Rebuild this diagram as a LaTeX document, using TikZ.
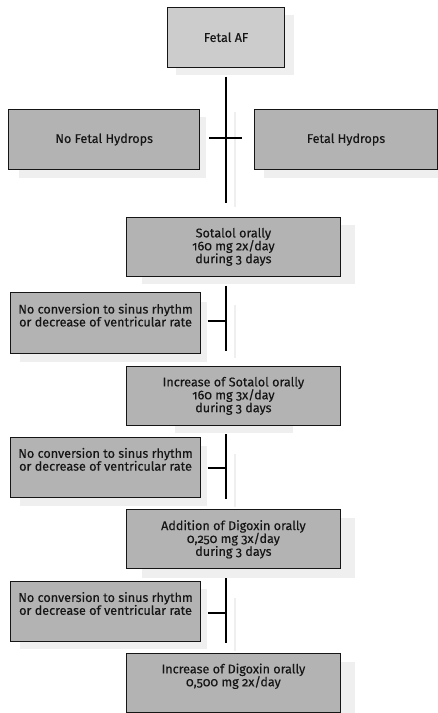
\documentclass[tikz,border=0pt]{standalone}
\usepackage{fontspec}
\setmainfont{Fira Sans}[Numbers=OldStyle]
\newfontfamily\boxfont{Fira Sans}[Numbers=OldStyle, FakeBold=0.2]
\definecolor{boxgray}{HTML}{B3B3B3}
\definecolor{topgray}{HTML}{CCCCCC}
\definecolor{shadowgray}{HTML}{EFEFEF}
\definecolor{inkgray}{HTML}{151515}
\tikzset{
  stepbox/.style={draw=inkgray, line width=1.1pt, fill=boxgray, inner sep=0pt,
    anchor=north west, align=center, text=inkgray,
    font=\boxfont\fontsize{12.6}{12.9}\selectfont},
  shadowbox/.style={fill=shadowgray, draw=none, inner sep=0pt, anchor=north west},
  flowline/.style={draw=black, line width=2.2pt},
  shadowline/.style={draw=shadowgray, line width=2pt},
}
% box given by its top-left corner, width and height
\newcommand{\flowbox}[6][]{%
  \node[stepbox, minimum width=#4pt, minimum height=#5pt, #1] (#2) at (#3) {#6};}
\newcommand{\shadebox}[4]{%
  \node[shadowbox, minimum width=#3pt, minimum height=#4pt] (#1) at (#2) {};}
\begin{document}
\begin{tikzpicture}[x=1pt, y=-1pt]
\useasboundingbox (0,0) rectangle (438,713);

% ---- drop shadows ----
\shadebox{s0}{176,15}{118}{60}
\shadebox{s1}{19,117}{187}{61}
\shadebox{s2}{264,117}{180}{61}
\shadebox{s3}{142,225}{213}{59}
\shadebox{s4}{20,301.5}{187}{60}
\shadebox{s5}{175,373}{118}{60}
\shadebox{s6}{20,446}{187}{60}
\shadebox{s7}{142,517.5}{213}{60}
\shadebox{s8}{20,589}{187}{60}
\shadebox{s9}{142,662}{213}{60}

% ---- shadows of the vertical connectors ----
\coordinate (l1s) at (235,112);   \coordinate (l1e) at (235,206.5);
\coordinate (l2s) at (234.5,305); \coordinate (l2e) at (234.5,358);
\coordinate (l3s) at (234.5,454); \coordinate (l3e) at (234.5,506.5);
\coordinate (l4s) at (234.5,598); \coordinate (l4e) at (234.5,650.5);
\draw[shadowline] (l1s) -- (l1e);
\draw[shadowline] (l2s) -- (l2e);
\draw[shadowline] (l3s) -- (l3e);
\draw[shadowline] (l4s) -- (l4e);

% ---- boxes ----
\flowbox[fill=topgray]{fetal}{166.7,6.7}{117.6}{60}{Fetal AF}
\flowbox{nohyd}{8.3,109}{190.7}{60}{No Fetal Hydrops}
\flowbox{hyd}{254,109}{183}{60}{Fetal Hydrops}
\flowbox{sot}{126,216.7}{213.7}{59.3}{Sotalol orally\\160 mg 2x/day\\during 3 days}
\flowbox{noc1}{10,292.3}{190}{60.4}{No conversion to sinus rhythm\\or decrease of ventricular rate\\[3pt]}
\flowbox{incsot}{126,365.7}{213.7}{59.3}{Increase of Sotalol orally\\160 mg 3x/day\\during 3 days}
\flowbox{noc2}{10,436.7}{190}{60}{No conversion to sinus rhythm\\or decrease of ventricular rate\\[3pt]}
\flowbox{adddig}{126,509.3}{213.7}{59}{Addition of Digoxin orally\\0,250 mg 3x/day\\during 3 days}
\flowbox{noc3}{10,581}{190}{59.7}{No conversion to sinus rhythm\\or decrease of ventricular rate\\[3pt]}
\flowbox{incdig}{126,653.3}{213.7}{59}{Increase of Digoxin orally\\0,500 mg 2x/day\\[4pt]}

% ---- connectors ----
\coordinate (v1a) at (225.7,76.7);  \coordinate (v1b) at (225.7,202.7);
\coordinate (h1a) at (209,137.7);   \coordinate (h1b) at (242,137.7);
\coordinate (v2a) at (225.7,285.7); \coordinate (v2b) at (225.7,350.7);
\coordinate (t2)  at (207.7,321);   \coordinate (j2) at (225.7,321);
\coordinate (v3a) at (225.7,434.3); \coordinate (v3b) at (225.7,499.3);
\coordinate (t3)  at (207.7,467.7); \coordinate (j3) at (225.7,467.7);
\coordinate (v4a) at (225.7,578.3); \coordinate (v4b) at (225.7,643.3);
\coordinate (t4)  at (207.7,613.3); \coordinate (j4) at (225.7,613.3);

\draw[flowline] (v1a) -- (v1b);
\draw[flowline] (h1a) -- (h1b);
\draw[flowline] (v2a) -- (v2b);
\draw[flowline] (t2) -- (j2);
\draw[flowline] (v3a) -- (v3b);
\draw[flowline] (t3) -- (j3);
\draw[flowline] (v4a) -- (v4b);
\draw[flowline] (t4) -- (j4);
\end{tikzpicture}
\end{document}
